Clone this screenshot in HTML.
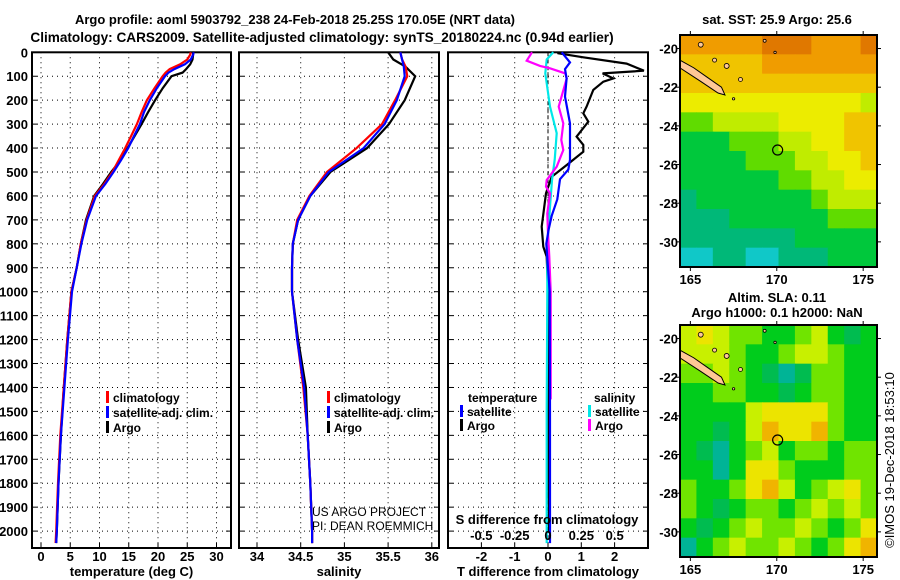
<!DOCTYPE html>
<html><head><meta charset="utf-8"><style>
body{margin:0;background:#fff;width:900px;height:580px;overflow:hidden}
svg{display:block;font-family:"Liberation Sans",Arial,sans-serif}
.b{font-weight:bold;font-size:13px}
.t{font-weight:bold;font-size:13px}
</style></head><body>
<svg id="c" width="900" height="580" viewBox="0 0 900 580">
<text class="t" x="295" y="24" text-anchor="middle">Argo profile: aoml 5903792_238 24-Feb-2018 25.25S 170.05E (NRT data)</text>
<text class="t" x="322" y="42" text-anchor="middle" style="font-size:13.6px">Climatology: CARS2009. Satellite-adjusted climatology: synTS_20180224.nc (0.94d earlier)</text>
<text class="t" x="777" y="24" text-anchor="middle">sat. SST: 25.9 Argo: 25.6</text>
<text class="t" x="777" y="302" text-anchor="middle">Altim. SLA: 0.11</text>
<text class="t" x="777" y="317" text-anchor="middle">Argo h1000: 0.1 h2000: NaN</text>
<text x="0" y="0" font-size="13" transform="translate(894,460) rotate(-90)" text-anchor="middle">©IMOS 19-Dec-2018 18:53:10</text>
<text x="312" y="516" font-size="12">US ARGO PROJECT</text>
<text x="312" y="530" font-size="12">PI: DEAN ROEMMICH</text>
</svg>
<script>
// ---- profile data ----
const depthT = [0,10,30,50,70,85,100,150,200,250,300,350,400,450,500,550,600,700,800,900,1000,1200,1400,1600,1800,2000,2050];
const argoT = [26.0,26.0,25.9,25.5,24.8,24.2,22.3,20.8,19.5,18.3,17.2,16.0,14.8,13.6,12.0,10.6,9.1,7.7,6.8,6.1,5.2,4.5,3.9,3.4,3.0,2.7,2.6];
const climT = [25.6,25.5,25.0,23.8,22.0,21.3,20.8,19.4,18.1,17.2,16.4,15.4,14.4,13.3,12.2,10.8,9.2,7.8,6.8,6.1,5.2,4.5,3.9,3.3,2.9,2.6,2.5];
const satT = [26.1,26.0,25.6,24.6,22.8,21.8,21.2,19.8,18.6,17.6,16.9,15.9,14.9,13.7,12.4,11.0,9.4,7.9,6.9,6.1,5.3,4.6,4.0,3.4,3.0,2.7,2.6];
const depthS = [0,30,60,100,200,300,400,500,600,700,800,900,1000,1200,1400,1600,1800,2000,2050];
const argoS = [35.50,35.56,35.70,35.81,35.69,35.51,35.26,34.84,34.61,34.47,34.41,34.40,34.40,34.47,34.56,34.58,34.61,34.63,34.63];
const climS = [35.64,35.66,35.70,35.72,35.58,35.43,35.14,34.80,34.60,34.46,34.41,34.40,34.40,34.46,34.53,34.58,34.61,34.63,34.63];
const satS = [35.64,35.66,35.68,35.69,35.60,35.46,35.22,34.82,34.61,34.47,34.41,34.40,34.40,34.46,34.54,34.58,34.61,34.63,34.63];
const dArgoTDepth = [0,4,21,47,77,88,109,123,157,227,255,290,352,387,415,471,520,589,728,812,854,1000,1500,2000];
const dArgoT = [0.30,0.31,1.06,2.36,2.88,1.64,1.96,1.66,1.36,1.16,1.06,1.21,0.86,1.06,1.06,0.56,0.11,-0.06,-0.19,-0.14,-0.04,0.0,0.0,0.03];
const dSatTDepth = [0,42,70,110,185,297,449,490,530,614,683,739,800,1000,1500,2000,2050];
const dSatT = [0.41,0.66,0.51,0.56,0.51,0.66,0.66,0.61,0.36,0.28,0.11,0.02,-0.05,0.05,0.06,0.06,0.06];
const dArgoSDepth = [0,35,57,67,88,109,227,297,366,408,478,534,561,589,673,756,854,1000,1200,1450];
const dArgoS = [-0.12,-0.16,-0.06,0.015,0.13,0.14,0.08,0.115,0.10,0.115,0.065,-0.01,-0.015,0.015,-0.005,0.0,0.01,0.02,0.02,0.02];
const dSatSDepth = [0,30,88,227,338,449,534,645,812,1000,1500,2000,2050];
const dSatS = [0.04,-0.01,-0.02,0.015,0.065,0.05,0.03,0.015,-0.005,-0.005,-0.01,-0.01,-0.01];
const depthTicks = [0,100,200,300,400,500,600,700,800,900,1000,1100,1200,1300,1400,1500,1600,1700,1800,1900,2000];
const tempTicks = [0,5,10,15,20,25,30];
const salTicks = [34,34.5,35,35.5,36];
const salTickLabels = ['34','34.5','35','35.5','36'];
const dTTicks = [-2,-1,0,1,2];
const dSTicks = [-0.5,-0.25,0,0.25,0.5];
const dSTickLabels = ['-0.5','-0.25','0','0.25','0.5'];
// ---- map data (colour class per cell, rows north->south) ----
const sstGrid = [
[7,7,7,7,7,8,8,8,7,7,7,8],
[6,6,6,6,6,7,7,7,7,7,7,7],
[6,6,6,6,6,6,6,6,6,6,6,6],
[5,5,5,5,5,5,5,5,5,5,5,4],
[3,3,4,4,4,4,5,5,5,5,6,6],
[2,2,2,3,3,3,4,4,5,5,6,6],
[2,2,2,2,3,3,3,4,4,5,5,6],
[2,2,2,2,2,2,3,3,4,4,5,5],
[1,2,2,2,2,2,2,2,3,4,4,4],
[1,1,1,2,2,2,2,2,2,3,3,3],
[1,1,1,1,1,1,1,2,2,2,2,2],
[0,0,1,1,0,0,1,1,1,2,2,2]];
const slaGrid = [
[4,5,4,3,3,2,2,3,4,2,1,2],
[4,4,4,3,2,2,3,4,4,3,2,2],
[3,3,4,3,2,1,0,1,3,3,2,2],
[2,2,3,3,2,2,1,2,3,3,2,2],
[2,2,2,2,4,5,5,5,5,3,2,2],
[2,2,1,2,4,6,5,5,6,3,2,2],
[2,1,0,2,3,4,2,3,3,2,3,3],
[2,2,0,2,5,5,3,2,2,2,3,3],
[3,2,2,3,5,6,4,2,3,4,5,3],
[3,2,1,2,3,3,2,3,4,3,4,3],
[2,1,2,3,4,3,3,4,3,2,3,5],
[0,2,3,4,3,3,4,3,2,3,5,6]];
const sstColors = ['#10c8c8','#00b878','#00c83c','#60dc00','#c0ec00','#ecec00','#f0c400','#f09c00','#e07800'];
const slaColors = ['#00b496','#00bc50','#00cc1c','#70e400','#c8f000','#ece400','#f0b400'];
const latTicks = [-20,-22,-24,-26,-28,-30];
const lonTicks = [165,170,175];
const argoLon = [170.05];
const argoLat = [-25.25];

const NS='http://www.w3.org/2000/svg';
const svg=document.getElementById('c');
function mk(tag,attrs,parent){const e=document.createElementNS(NS,tag);for(const k in attrs)e.setAttribute(k,attrs[k]);(parent||svg).appendChild(e);return e;}
const Y0=52.3, YS=0.2394;
const yD=d=>Y0+YS*d;
const PB=548;
const xT=v=>41+5.85*v;
const xS=v=>257+87.4*(v-34);
const xdT=v=>548+33.3*v;
const xdS=v=>548+133.3*v;

function panel(name,L,R,xf,ticks,labels,title){
  const g=mk('g',{});
  
  
  depthTicks.forEach(d=>{const y=yD(d);
    const l=mk('line',{x1:L,x2:R,y1:y,y2:y,stroke:'#000','stroke-dasharray':'1 4','stroke-width':1},g);
    
    mk('line',{x1:L,x2:L+5,y1:y,y2:y,stroke:'#000'},g);mk('line',{x1:R-5,x2:R,y1:y,y2:y,stroke:'#000'},g);});
  ticks.forEach((t,i)=>{const x=xf(t);
    const l=mk('line',{x1:x,x2:x,y1:Y0,y2:PB,stroke:'#000','stroke-dasharray':'1 4'},g);
    
    mk('line',{x1:x,x2:x,y1:PB-5,y2:PB,stroke:'#000'},g);
    const tx=mk('text',{x:x,y:561,'text-anchor':'middle',class:'b'},g);tx.textContent=labels[i];
    });
  const r=mk('rect',{x:L,y:Y0,width:R-L,height:PB-Y0,fill:'none',stroke:'#000','stroke-width':2},g);
  
  const tt=mk('text',{x:(L+R)/2,y:576,'text-anchor':'middle',class:'b'},g);tt.textContent=title;
  
  return g;
}
function line(g,name,xs,ds,xf,color){
  const pts=xs.map((v,i)=>xf(v).toFixed(1)+','+yD(ds[i]).toFixed(1)).join(' ');
  const p=mk('polyline',{points:pts,fill:'none',stroke:color,'stroke-width':2.2,'stroke-linejoin':'miter'},g);
  
  
}
function legend(g,x,y,color,label){
  mk('rect',{x:x,y:y-11,width:3,height:12,fill:color},g);
  const t=mk('text',{x:x+7,y:y,class:'b',style:'font-size:12px'},g);t.textContent=label;
  
  
}
depthTicks.forEach(d=>{const t=mk('text',{x:28,y:yD(d)+5,'text-anchor':'end',class:'b'});t.textContent=d;
  });

const g1=panel('temperature-panel',32,231,xT,tempTicks,tempTicks.map(String),'temperature (deg C)');
line(g1,'argo-temperature-line',argoT,depthT,xT,'#000');
line(g1,'climatology-temperature-line',climT,depthT,xT,'#f00');
line(g1,'satellite-temperature-line',satT,depthT,xT,'#00f');
legend(g1,106,402,'#f00','climatology');legend(g1,106,417,'#00f','satellite-adj. clim.');legend(g1,106,432,'#000','Argo');

const g2=panel('salinity-panel',239,439,xS,salTicks,salTickLabels,'salinity');
line(g2,'argo-salinity-line',argoS,depthS,xS,'#000');
line(g2,'climatology-salinity-line',climS,depthS,xS,'#f00');
line(g2,'satellite-salinity-line',satS,depthS,xS,'#00f');
legend(g2,327,402,'#f00','climatology');legend(g2,327,417,'#00f','satellite-adj. clim.');legend(g2,327,432,'#000','Argo');

const g3=panel('difference-panel',448,648,xdT,dTTicks,dTTicks.map(String),'T difference from climatology');
const zl=mk('line',{x1:548,x2:548,y1:Y0,y2:PB,stroke:'#000','stroke-dasharray':'4 3'},g3);

line(g3,'argo-temperature-diff-line',dArgoT,dArgoTDepth,xdT,'#000');
line(g3,'satellite-salinity-diff-line',dSatS,dSatSDepth,xdS,'#00e8e8');
line(g3,'argo-salinity-diff-line',dArgoS,dArgoSDepth,xdS,'#f0f');
line(g3,'satellite-temperature-diff-line',dSatT,dSatTDepth,xdT,'#00f');
{const t=mk('text',{x:468,y:402,class:'b',style:'font-size:12px'},g3);t.textContent='temperature';}
{const t=mk('text',{x:594,y:402,class:'b',style:'font-size:12px'},g3);t.textContent='salinity';}
legend(g3,460,416,'#00f','satellite');legend(g3,460,430,'#000','Argo');
legend(g3,588,416,'#00e8e8','satellite');legend(g3,588,430,'#f0f','Argo');
{const t=mk('text',{x:547,y:524,'text-anchor':'middle',class:'b'},g3);t.textContent='S difference from climatology';}
dSTicks.forEach((v,i)=>{const t=mk('text',{x:xdS(v),y:540,'text-anchor':'middle',class:'b'},g3);t.textContent=dSTickLabels[i];
  });

function drawMap(name,top,grid,colors){
  const L=680,R=877,H=232,B=top+H;
  const lonL=164.4,lonR=175.8,latT=-19.3,latB=-31.3;
  const mx=lo=>L+(lo-lonL)/(lonR-lonL)*(R-L);
  const my=la=>top+(latT-la)/(latT-latB)*H;
  const g=mk('g',{});
  
  
  const rows=grid.length,cols=grid[0].length,cw=(R-L)/cols,ch=H/rows;
  grid.forEach((row,r)=>row.forEach((v,c)=>{
    const cell=mk('rect',{x:L+c*cw,y:top+r*ch,width:cw+0.6,height:ch+0.6,fill:colors[v]},g);
    
    }));
  const isl=mk('polygon',{points:[[164.4,-20.6],[165.2,-21.0],[166.0,-21.5],[166.8,-22.0],[167.0,-22.4],[166.6,-22.3],[165.6,-21.7],[164.4,-21.0]].map(p=>mx(p[0])+','+my(p[1])).join(' '),fill:'#ffc896',stroke:'#000','stroke-width':1},g);
  
  [[165.6,-19.8,2.5],[166.4,-20.6,2],[167.1,-20.9,2.5],[167.9,-21.6,2],[169.3,-19.6,1.5],[169.9,-20.2,1.2],[167.5,-22.6,1.2]].forEach(p=>{
    const e=mk('circle',{cx:mx(p[0]),cy:my(p[1]),r:p[2],fill:'#ffc896',stroke:'#000','stroke-width':0.8},g);
    });
  argoLon.forEach((lo,i)=>{const c=mk('circle',{cx:mx(lo),cy:my(argoLat[i]),r:5,fill:'none',stroke:'#000','stroke-width':1.2},g);
    });
  const fr=mk('rect',{x:L,y:top,width:R-L,height:H,fill:'none',stroke:'#000','stroke-width':2},g);
  
  latTicks.forEach(la=>{const y=my(la);
    mk('line',{x1:L-4,x2:L,y1:y,y2:y,stroke:'#000'},g);mk('line',{x1:R,x2:R+4,y1:y,y2:y,stroke:'#000'},g);
    const t=mk('text',{x:678,y:y+5,'text-anchor':'end',class:'b'},g);t.textContent=la;
    });
  lonTicks.forEach(lo=>{const x=mx(lo);
    mk('line',{x1:x,x2:x,y1:top-4,y2:top,stroke:'#000'},g);mk('line',{x1:x,x2:x,y1:B,y2:B+4,stroke:'#000'},g);
    const t=mk('text',{x:x,y:B+17,'text-anchor':'middle',class:'b'},g);t.textContent=lo;
    });
}
drawMap('sst-map',35,sstGrid,sstColors);
drawMap('sla-map',325,slaGrid,slaColors);
</script>
</body></html>
